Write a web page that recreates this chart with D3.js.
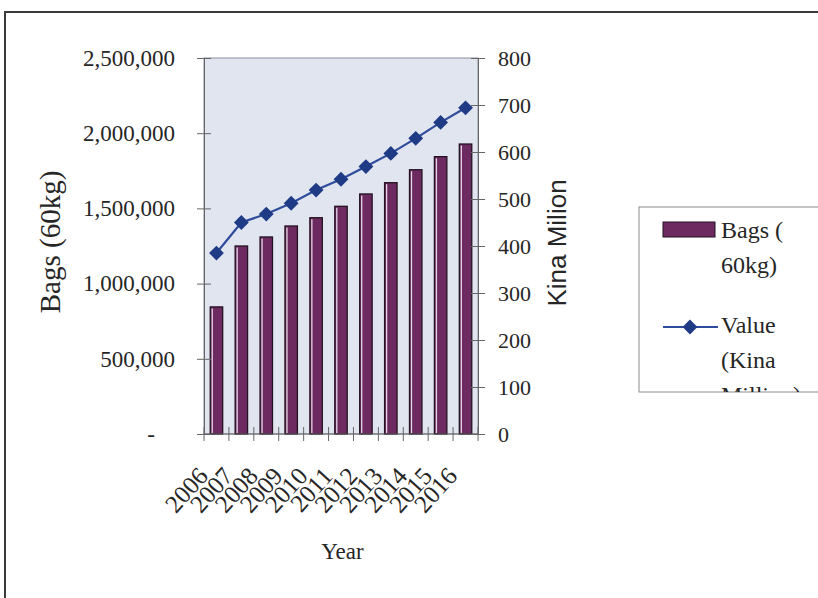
<!DOCTYPE html>
<html>
<head>
<meta charset="utf-8">
<script src="https://cdn.jsdelivr.net/npm/d3@7"></script>
<style>
  html, body { margin: 0; padding: 0; background: #fff; }
  svg { display: block; }
  text { fill: #262626; }
</style>
</head>
<body>
<svg id="chart" width="818" height="598"></svg>
<script>
// Coffee production: bags (60kg) and value (Kina million), 2006-2016
const years = ["2006","2007","2008","2009","2010","2011","2012","2013","2014","2015","2016"];
const bags = [845000, 1250000, 1310000, 1383000, 1438000, 1514000, 1596000, 1671000, 1757000, 1844000, 1928000];
const valueKina = [385, 450, 468, 491, 519, 542, 569, 597, 629, 663, 694];
const bagTicks = [0, 500000, 1000000, 1500000, 2000000, 2500000];
const valueTicks = [0, 100, 200, 300, 400, 500, 600, 700, 800];
const legendLines = [["Bags (", "60kg)"], ["Value", "(Kina", "Million)"]];

const serif = "'Liberation Serif', 'Times New Roman', serif";
const sans = "'Liberation Sans', Arial, sans-serif";

const svg = d3.select("#chart");
const plot = { left: 204, right: 478, top: 58, bottom: 434 };

// outer chart frame (top and left edges)
svg.append("path")
  .attr("d", "M5,598 L5,12 L818,12")
  .attr("fill", "none").attr("stroke", "#3a3a3a").attr("stroke-width", 2);

const x = d3.scaleBand().domain(years)
  .range([plot.left, plot.right]).paddingInner(0.5).paddingOuter(0.25);
const xEdge = d3.scaleLinear().domain([0, years.length]).range([plot.left, plot.right]);
const yL = d3.scaleLinear().domain([0, 2500000]).range([plot.bottom, plot.top]);
const yR = d3.scaleLinear().domain([0, 800]).range([plot.bottom, plot.top]);

// plot area
svg.append("rect")
  .attr("x", plot.left).attr("y", plot.top)
  .attr("width", plot.right - plot.left).attr("height", plot.bottom - plot.top)
  .attr("fill", "#e1e5f0").attr("stroke", "#8a8fa3").attr("stroke-width", 1);

// bars
const bar = svg.append("g").selectAll("g").data(years).join("g");
bar.append("rect")
  .attr("x", d => x(d)).attr("y", (d, i) => yL(bags[i]))
  .attr("width", x.bandwidth()).attr("height", (d, i) => yL(0) - yL(bags[i]))
  .attr("fill", "#6d2a60").attr("stroke", "#231322").attr("stroke-width", 1.3);
bar.append("line")
  .attr("x1", d => x(d) + 2).attr("x2", d => x(d) + 2)
  .attr("y1", (d, i) => yL(bags[i]) + 1.5).attr("y2", yL(0) - 1)
  .attr("stroke", "#e6d6e6").attr("stroke-width", 1.3);

// left axis
const axL = svg.append("g").attr("transform", `translate(${plot.left},0)`)
  .call(d3.axisLeft(yL).tickValues(bagTicks).tickSize(7).tickPadding(22)
    .tickFormat(d => d === 0 ? "-" : d3.format(",")(d)));
axL.select(".domain").attr("stroke", "#666");
axL.selectAll(".tick line").attr("x1", 7).attr("stroke", "#666");
axL.selectAll(".tick text").attr("font-family", serif).attr("font-size", 23).attr("fill", "#262626")
  .attr("x", d => d === 0 ? -49 : -29);

// right axis
const axR = svg.append("g").attr("transform", `translate(${plot.right},0)`)
  .call(d3.axisRight(yR).tickValues(valueTicks).tickSize(7).tickPadding(13));
axR.select(".domain").attr("stroke", "#666");
axR.selectAll(".tick line").attr("x1", -7).attr("stroke", "#666");
axR.selectAll(".tick text").attr("font-family", serif).attr("font-size", 22).attr("fill", "#262626");

// bottom axis: ticks at category boundaries
const axB = svg.append("g");
axB.append("line").attr("x1", plot.left).attr("x2", plot.right)
  .attr("y1", plot.bottom).attr("y2", plot.bottom).attr("stroke", "#666");
axB.selectAll("line.tk").data(d3.range(years.length + 1)).join("line").attr("class", "tk")
  .attr("x1", d => xEdge(d)).attr("x2", d => xEdge(d))
  .attr("y1", plot.bottom - 7).attr("y2", plot.bottom + 7).attr("stroke", "#666");
axB.selectAll("text").data(years).join("text")
  .attr("transform", d => `translate(${x(d) + x.bandwidth() / 2 - 7},${plot.bottom + 43}) rotate(-48)`)
  .attr("text-anchor", "end").attr("font-family", serif).attr("font-size", 25)
  .text(d => d);

// value line with diamond markers
const cx = d => x(d) + x.bandwidth() / 2;
svg.append("path")
  .datum(years)
  .attr("d", d3.line().x(d => cx(d)).y((d, i) => yR(valueKina[i])))
  .attr("fill", "none").attr("stroke", "#2f4c9c").attr("stroke-width", 2.2);
const diamond = d3.symbol().type(d3.symbolDiamond2).size(140);
svg.append("g").selectAll("path").data(years).join("path")
  .attr("transform", (d, i) => `translate(${cx(d)},${yR(valueKina[i])})`)
  .attr("d", diamond).attr("fill", "#1f3b86");

// axis titles
svg.append("text").attr("transform", "translate(60,242) rotate(-90)")
  .attr("text-anchor", "middle").attr("font-family", serif).attr("font-size", 29)
  .text("Bags (60kg)");
svg.append("text").attr("transform", "translate(566,243) rotate(-90)")
  .attr("text-anchor", "middle").attr("font-family", sans).attr("font-size", 26)
  .text("Kina Milion");
svg.append("text").attr("x", 342.5).attr("y", 559)
  .attr("text-anchor", "middle").attr("font-family", serif).attr("font-size", 23)
  .text("Year");

// legend
const lg = { x: 639, y: 207, w: 200, h: 185 };
svg.append("clipPath").attr("id", "legendClip")
  .append("rect").attr("x", lg.x).attr("y", lg.y).attr("width", lg.w).attr("height", lg.h);
svg.append("rect").attr("x", lg.x).attr("y", lg.y).attr("width", lg.w).attr("height", lg.h)
  .attr("fill", "#fff").attr("stroke", "#8a8a8a").attr("stroke-width", 1);
const legend = svg.append("g").attr("clip-path", "url(#legendClip)");
legend.append("rect").attr("x", 663).attr("y", 222).attr("width", 52).attr("height", 15)
  .attr("fill", "#6d2a60").attr("stroke", "#231322").attr("stroke-width", 1);
legend.append("line").attr("x1", 663).attr("x2", 718).attr("y1", 327).attr("y2", 327)
  .attr("stroke", "#2f4c9c").attr("stroke-width", 2.2);
legend.append("path").attr("transform", "translate(690,327)").attr("d", diamond).attr("fill", "#1f3b86");
const legendTop = [238, 333];
legendLines.forEach((lines, k) => {
  legend.append("g").selectAll("text").data(lines).join("text")
    .attr("x", 721).attr("y", (d, i) => legendTop[k] + i * 35)
    .attr("font-family", serif).attr("font-size", 24)
    .text(d => d);
});
</script>
</body>
</html>
